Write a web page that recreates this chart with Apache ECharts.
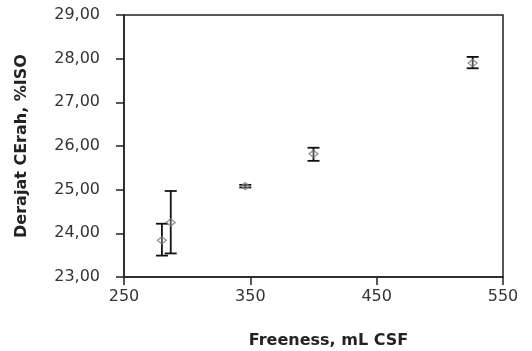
<!DOCTYPE html>
<html><head><meta charset="utf-8">
<script src="https://cdn.jsdelivr.net/npm/echarts@6/dist/echarts.min.js"></script>
<style>html,body{margin:0;padding:0;background:#fff}#c{width:532px;height:351px}</style>
</head><body><div id="c"></div>
<script>
const freeness = [280, 287, 346, 400, 526];
const brightness = [23.84, 24.25, 25.08, 25.82, 27.90];
const errLow = [23.49, 23.54, 25.05, 25.66, 27.78];
const errHigh = [24.22, 24.97, 25.11, 25.96, 28.04];
const xTicks = [250, 350, 450, 550];
const yTicks = [23, 24, 25, 26, 27, 28, 29];

const chart = echarts.init(document.getElementById('c'));
const pts = freeness.map((x, i) => [x, brightness[i]]);
const errs = freeness.map((x, i) => [x, errLow[i], errHigh[i]]);
const axisColor = '#222';
chart.setOption({
  animation: false,
  grid: { left: 124, right: 29, top: 15, bottom: 74, show: true, borderColor: axisColor, borderWidth: 1.5,
    containLabel: false, outerBoundsMode: 'none' },
  xAxis: {
    type: 'value', min: xTicks[0], max: xTicks[xTicks.length - 1], interval: 100,
    name: 'Freeness, mL CSF', nameLocation: 'middle', nameGap: 56,
    nameTextStyle: { fontFamily: 'DejaVu Sans', fontWeight: 'bold', fontSize: 16, color: '#222', padding: [0, 0, 0, 30] },
    axisLine: { lineStyle: { color: axisColor, width: 1.5 } },
    axisTick: { show: true, length: 8, inside: false, lineStyle: { color: axisColor, width: 1.5 } },
    axisLabel: { fontFamily: 'DejaVu Sans', fontSize: 16, color: '#333', margin: 12 },
    splitLine: { show: false }
  },
  yAxis: {
    type: 'value', min: yTicks[0], max: yTicks[yTicks.length - 1], interval: 1,
    name: 'Derajat CErah, %ISO', nameLocation: 'middle', nameGap: 94, nameRotate: 90,
    nameTextStyle: { fontFamily: 'DejaVu Sans', fontWeight: 'bold', fontSize: 16, color: '#222' },
    axisLine: { show: true, lineStyle: { color: axisColor, width: 1.5 } },
    axisTick: { show: true, length: 8, lineStyle: { color: axisColor, width: 1.5 } },
    axisLabel: { fontFamily: 'DejaVu Sans', fontSize: 16, color: '#333', margin: 24,
      formatter: v => v.toFixed(2).replace('.', ',') },
    splitLine: { show: false }
  },
  series: [
    {
      type: 'custom',
      data: errs,
      renderItem: function (params, api) {
        const x = api.value(0);
        const lo = api.coord([x, api.value(1)]);
        const hi = api.coord([x, api.value(2)]);
        const hw = 6;
        const st = { stroke: '#111', lineWidth: 1.8 };
        return {
          type: 'group',
          children: [
            { type: 'line', shape: { x1: lo[0], y1: lo[1], x2: hi[0], y2: hi[1] }, style: st },
            { type: 'line', shape: { x1: lo[0] - hw, y1: lo[1], x2: lo[0] + hw, y2: lo[1] }, style: st },
            { type: 'line', shape: { x1: hi[0] - hw, y1: hi[1], x2: hi[0] + hw, y2: hi[1] }, style: st }
          ]
        };
      },
      z: 2
    },
    {
      type: 'scatter',
      data: pts,
      symbol: 'diamond',
      symbolSize: [9, 7],
      itemStyle: { color: 'rgba(255,255,255,0.3)', borderColor: '#777', borderWidth: 1.3 },
      z: 3
    }
  ]
});
</script></body></html>
